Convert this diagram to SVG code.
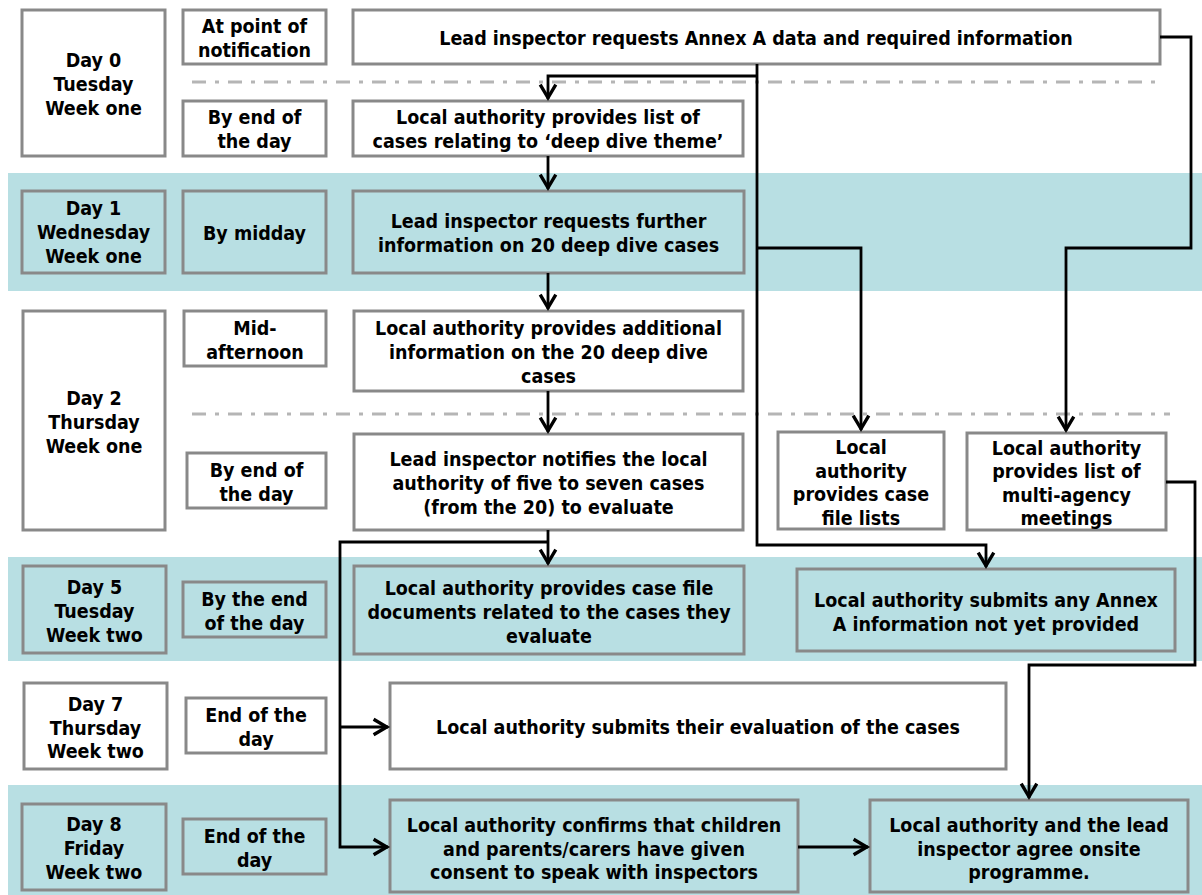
<svg xmlns="http://www.w3.org/2000/svg" width="1202" height="895" viewBox="0 0 1202 895">
<style>
.band{fill:#b8dfe3}
.box{stroke:#898989;stroke-width:3;fill:#fff}
.tl{fill:#b8dfe3}
.dd{stroke:#b5b5b5;stroke-width:3;stroke-dasharray:14 9 4 9;fill:none}
.c{stroke:#000;stroke-width:2.8;fill:none}
.a{marker-end:url(#arr)}
text{font-family:'DejaVu Sans Condensed','DejaVu Sans',sans-serif;font-stretch:condensed;font-weight:bold;font-size:19.5px;fill:#000;text-anchor:middle}
</style>
<defs>
<marker id="arr" markerUnits="userSpaceOnUse" markerWidth="24" markerHeight="24" viewBox="-14 -10 18 20" refX="1" refY="0" orient="auto">
<path d="M-11,-6.5 L0,0 L-11,6.5" fill="none" stroke="#000" stroke-width="2.8"/>
</marker>
</defs>
<rect width="1202" height="895" fill="#fff"/>
<g id="bands">
<rect class="band" x="8" y="173" width="1194" height="118"/>
<rect class="band" x="8" y="557" width="1194" height="104"/>
<rect class="band" x="8" y="785" width="1194" height="110"/>
</g>
<g id="separators">
<line class="dd" x1="192" y1="82" x2="1158" y2="82"/>
<line class="dd" x1="192" y1="414" x2="1170" y2="414"/>
</g>
<g id="day0"><rect class="box" x="22" y="10" width="143" height="146"/><text x="93.5" y="67">Day 0</text><text x="93.5" y="91">Tuesday</text><text x="93.5" y="115">Week one</text></g>
<g id="t0a"><rect class="box" x="183" y="10" width="143" height="54"/><text x="254.5" y="33">At point of</text><text x="254.5" y="57">notification</text></g>
<g id="annexReq"><rect class="box" x="353" y="10" width="807" height="54"/><text x="756" y="45">Lead inspector requests Annex A data and required information</text></g>
<g id="t0b"><rect class="box" x="183" y="101" width="143" height="55"/><text x="254.5" y="124">By end of</text><text x="254.5" y="148">the day</text></g>
<g id="listCases"><rect class="box" x="353" y="101" width="390" height="55"/><text x="548" y="124">Local authority provides list of</text><text x="548" y="148">cases relating to ‘deep dive theme’</text></g>
<g id="day1"><rect class="box tl" x="22" y="191" width="143" height="82"/><text x="93.5" y="215">Day 1</text><text x="93.5" y="239">Wednesday</text><text x="93.5" y="263">Week one</text></g>
<g id="t1"><rect class="box tl" x="183" y="191" width="143" height="82"/><text x="254.5" y="240">By midday</text></g>
<g id="reqFurther"><rect class="box tl" x="353" y="191" width="391" height="82"/><text x="548.5" y="228">Lead inspector requests further</text><text x="548.5" y="252">information on 20 deep dive cases</text></g>
<g id="day2"><rect class="box" x="23" y="311" width="142" height="219"/><text x="94" y="405">Day 2</text><text x="94" y="429">Thursday</text><text x="94" y="453">Week one</text></g>
<g id="t2a"><rect class="box" x="184" y="311" width="142" height="55"/><text x="255" y="335">Mid-</text><text x="255" y="359">afternoon</text></g>
<g id="addInfo"><rect class="box" x="354" y="311" width="389" height="80"/><text x="548.5" y="335">Local authority provides additional</text><text x="548.5" y="359">information on the 20 deep dive</text><text x="548.5" y="383">cases</text></g>
<g id="t2b"><rect class="box" x="187" y="453" width="139" height="55"/><text x="256.5" y="477">By end of</text><text x="256.5" y="501">the day</text></g>
<g id="notify"><rect class="box" x="354" y="434" width="389" height="96"/><text x="548.5" y="466">Lead inspector notifies the local</text><text x="548.5" y="490">authority of five to seven cases</text><text x="548.5" y="514">(from the 20) to evaluate</text></g>
<g id="caseFileLists"><rect class="box" x="778" y="432" width="166" height="97"/><text x="861" y="454">Local</text><text x="861" y="478">authority</text><text x="861" y="501">provides case</text><text x="861" y="525">file lists</text></g>
<g id="multiAgency"><rect class="box" x="967" y="433" width="199" height="97"/><text x="1066.5" y="455">Local authority</text><text x="1066.5" y="478">provides list of</text><text x="1066.5" y="502">multi-agency</text><text x="1066.5" y="525">meetings</text></g>
<g id="day5"><rect class="box tl" x="23" y="566" width="143" height="87"/><text x="94.5" y="594">Day 5</text><text x="94.5" y="618">Tuesday</text><text x="94.5" y="642">Week two</text></g>
<g id="t5"><rect class="box tl" x="183" y="582" width="143" height="55"/><text x="254.5" y="606">By the end</text><text x="254.5" y="630">of the day</text></g>
<g id="caseDocs"><rect class="box tl" x="354" y="566" width="390" height="88"/><text x="549" y="595">Local authority provides case file</text><text x="549" y="619">documents related to the cases they</text><text x="549" y="643">evaluate</text></g>
<g id="annexSubmit"><rect class="box tl" x="797" y="569" width="378" height="82"/><text x="986" y="607">Local authority submits any Annex</text><text x="986" y="631">A information not yet provided</text></g>
<g id="day7"><rect class="box" x="24" y="683" width="143" height="86"/><text x="95.5" y="711">Day 7</text><text x="95.5" y="735">Thursday</text><text x="95.5" y="758">Week two</text></g>
<g id="t7"><rect class="box" x="186" y="698" width="140" height="55"/><text x="256" y="722">End of the</text><text x="256" y="746">day</text></g>
<g id="evaluation"><rect class="box" x="390" y="683" width="616" height="86"/><text x="698" y="734">Local authority submits their evaluation of the cases</text></g>
<g id="day8"><rect class="box tl" x="22" y="804" width="144" height="86"/><text x="94" y="831">Day 8</text><text x="94" y="855">Friday</text><text x="94" y="879">Week two</text></g>
<g id="t8"><rect class="box tl" x="183" y="819" width="143" height="55"/><text x="254.5" y="843">End of the</text><text x="254.5" y="867">day</text></g>
<g id="consent"><rect class="box tl" x="390" y="800" width="408" height="92"/><text x="594" y="832">Local authority confirms that children</text><text x="594" y="856">and parents/carers have given</text><text x="594" y="879">consent to speak with inspectors</text></g>
<g id="agree"><rect class="box tl" x="870" y="800" width="318" height="92"/><text x="1029" y="832">Local authority and the lead</text><text x="1029" y="856">inspector agree onsite</text><text x="1029" y="879">programme.</text></g>
<g id="connectors">
<path class="c a" d="M757 64 V545 H986 V567"/>
<path class="c a" d="M757 76 H548 V99"/>
<path class="c a" d="M757 248 H861 V430"/>
<path class="c a" d="M1160 37 H1191 V248 H1066 V431"/>
<path class="c a" d="M1166 482 H1195 V665 H1029 V798"/>
<path class="c a" d="M548 156 V189"/>
<path class="c a" d="M548 273 V309"/>
<path class="c a" d="M548 391 V432"/>
<path class="c a" d="M548 530 V564"/>
<path class="c a" d="M548 542 H340 V847 H388"/>
<path class="c a" d="M340 727 H388"/>
<path class="c a" d="M798 847 H868"/>
</g>
</svg>
